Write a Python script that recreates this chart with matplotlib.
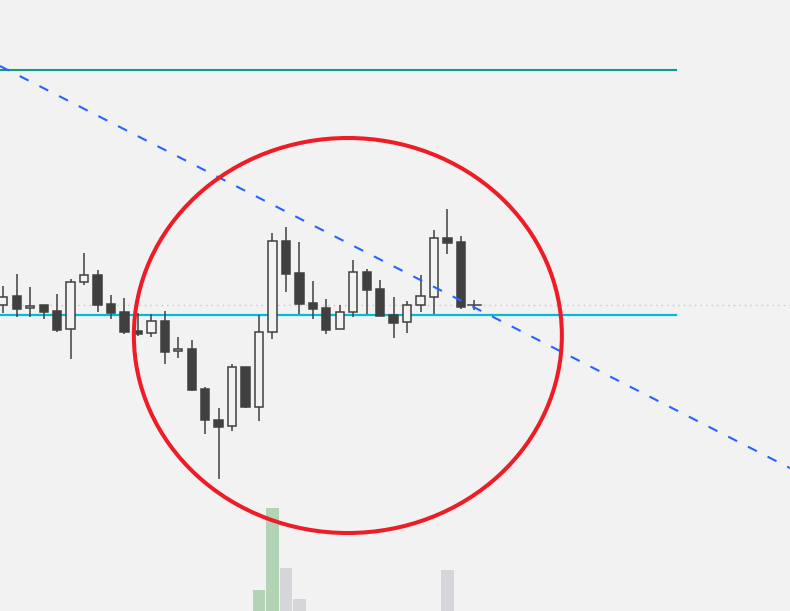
import matplotlib
matplotlib.use("Agg")
import matplotlib.pyplot as plt
from matplotlib.patches import Ellipse, Rectangle

# ---- data (price units, arbitrary scale) ----
opens = [130.57, 131.47, 130.27, 130.57, 129.97, 128.17, 132.87, 133.57, 130.67, 129.87,
         128.00, 127.77, 128.97, 125.97, 126.17, 122.17, 119.07, 118.47, 124.37, 120.43,
         127.87, 136.97, 133.80, 130.77, 130.27, 128.17, 129.87, 133.90, 132.20, 129.57,
         128.87, 130.57, 131.43, 137.30, 136.87, 130.57]
highs = [132.50, 133.70, 132.37, 130.57, 131.70, 133.17, 135.80, 134.10, 131.57, 131.30,
         129.77, 129.70, 130.00, 127.40, 127.10, 122.37, 120.27, 124.70, 124.37, 129.57,
         137.80, 138.40, 136.90, 133.00, 131.20, 130.60, 135.10, 134.20, 133.10, 131.40,
         131.00, 133.60, 138.10, 140.20, 137.50, 131.10]
lows = [129.83, 129.37, 129.43, 129.17, 127.87, 125.23, 132.63, 129.93, 129.23, 127.73,
        127.50, 127.43, 124.73, 125.33, 122.03, 117.73, 113.17, 118.03, 120.30, 119.03,
        127.23, 131.93, 129.73, 129.23, 127.73, 128.17, 129.43, 129.70, 129.53, 127.33,
        127.83, 129.93, 129.73, 135.73, 130.23, 130.13]
closes = [131.43, 130.23, 130.53, 129.93, 128.13, 132.87, 133.57, 130.63, 129.83, 127.93,
          127.73, 128.97, 125.93, 126.17, 122.13, 119.13, 118.43, 124.37, 120.40, 127.87,
          136.97, 133.73, 130.73, 130.23, 128.13, 129.87, 133.87, 132.13, 129.53, 128.83,
          130.57, 131.47, 137.27, 136.83, 130.43, 130.57]

vol_index = [19, 20, 21, 22, 33]
vol_values = [2100, 10300, 4300, 1200, 4100]
vol_up = [True, True, False, False, False]

level_top = 154.13      # green horizontal level
level_mid = 129.63      # cyan horizontal level
last_price = 130.57     # dotted last price line
level_end = 50          # index where horizontal levels end
trend_p0 = (0, 154.33)  # trend line anchor
trend_slope = -0.685    # price per bar
circle_center = (25.6, 127.55)
circle_w, circle_h = 31.8, 39.5

BG = "#f2f2f2"
DARK = "#404040"

fig = plt.figure(figsize=(7.9, 6.11), dpi=100, facecolor=BG)

# volume axes (behind)
axv = fig.add_axes([0, 0, 1, 1])
axv.set_facecolor(BG)
axv.set_xlim(-0.245, 58.45)
axv.set_ylim(0, 61100)
for i, v, up in zip(vol_index, vol_values, vol_up):
    axv.bar(i, v, width=0.92, color="#b2d3b6" if up else "#d6d6da", linewidth=0)
axv.axis("off")

ax = fig.add_axes([0, 0, 1, 1])
ax.patch.set_alpha(0)
ax.set_xlim(-0.245, 58.45)
ax.set_ylim(100.0, 161.1)
ax.axis("off")

# last price dotted line
ax.axhline(last_price, color="#c8c8c8", lw=1, ls=(0, (1, 3)), zorder=1)
# horizontal levels
ax.plot([-1, level_end], [level_mid, level_mid], color="#00bcd4", lw=1.6, zorder=2)
ax.plot([-1, level_end], [level_top, level_top], color="#12998a", lw=1.5, zorder=2)

bw = 0.62
for i, (o, h, l, c) in enumerate(zip(opens, highs, lows, closes)):
    up = c >= o
    ax.plot([i, i], [l, h], color=DARK, lw=1.1, zorder=3, solid_capstyle="butt")
    bot, top = min(o, c), max(o, c)
    if top - bot < 0.05:
        ax.plot([i - bw / 2 - 0.15, i + bw / 2 + 0.15], [o, o], color=DARK, lw=1.1, zorder=4)
    else:
        ax.add_patch(Rectangle((i - bw / 2, bot), bw, top - bot,
                               facecolor=BG if up else DARK, edgecolor=DARK,
                               lw=1.1, zorder=4))

# trend line
ax.axline(trend_p0, slope=trend_slope, color="#2962ff", lw=1.5,
          ls=(0, (4.8, 5.8)), zorder=5)

# circle
ax.add_patch(Ellipse(circle_center, circle_w, circle_h, fill=False,
                     edgecolor="#ee1c25", lw=2.9, zorder=6))

fig.savefig("out.png", dpi=100, facecolor=BG)
